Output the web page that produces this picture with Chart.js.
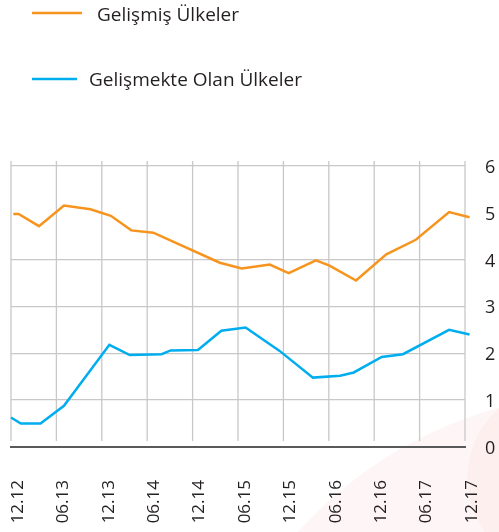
<!DOCTYPE html>
<html lang="tr">
<head>
<meta charset="utf-8">
<title>Gelişmiş ve Gelişmekte Olan Ülkeler</title>
<script src="https://cdn.jsdelivr.net/npm/chart.js@4/dist/chart.umd.min.js"></script>
<style>
  html, body { margin: 0; padding: 0; background: #ffffff; }
  #wrap {
    position: relative; width: 499px; height: 532px; overflow: hidden;
    background:
      radial-gradient(circle at 560px 478px, #fcefee 0 92px, rgba(252,239,238,0) 93px),
      radial-gradient(circle at 611px 814px, #fef6f6 0 421px, rgba(254,246,246,0) 422px),
      #ffffff;
  }
  canvas { display: block; }
</style>
</head>
<body>
<div id="wrap"><canvas id="chart" width="499" height="532"></canvas></div>
<script>
// Six-monthly tick labels (MM.YY), one every 6 months starting December 2012
const tickLabels = ['12.12', '06.13', '12.13', '06.14', '12.14', '06.15',
                    '12.15', '06.16', '12.16', '06.17', '12.17'];

// Series positions in months since December 2012, and their values
const advancedMonths = [0.3, 1, 3.7, 7, 10.5, 13.2, 15.9, 18.8, 27.6, 30.5,
                        34.2, 36.7, 40.3, 42.1, 45.6, 49.6, 53.5, 57.9, 60.6];
const advancedValues = [4.97, 4.97, 4.71, 5.15, 5.07, 4.93, 4.62, 4.57, 3.93, 3.81,
                        3.89, 3.71, 3.98, 3.87, 3.55, 4.11, 4.42, 5.01, 4.90];

const emergingMonths = [0, 1.3, 3.9, 7, 13, 15.7, 19.9, 21.1, 24.7, 27.8,
                        31, 35.5, 39.9, 43.5, 45.3, 49, 51.8, 57.9, 60.6];
const emergingValues = [0.63, 0.50, 0.50, 0.88, 2.18, 1.96, 1.98, 2.06, 2.07, 2.48,
                        2.55, 2.05, 1.48, 1.52, 1.59, 1.92, 1.98, 2.50, 2.40];

const seriesNames = ['Gelişmiş Ülkeler', 'Gelişmekte Olan Ülkeler'];

const ORANGE = '#f7941d';
const BLUE = '#00aeef';
const GRID = '#c8c8c9';
const TEXT = '#231f20';
const FONT = "'Open Sans', 'Noto Sans', sans-serif";

const toPoints = (xs, ys) => xs.map((x, i) => ({ x: x, y: ys[i] }));

// Vertical grid lines at each x tick; they stop a little above the base line
const verticalGrid = {
  id: 'verticalGrid',
  beforeDatasetsDraw(chart) {
    const { ctx, chartArea, scales } = chart;
    const x = scales.x, y = scales.y;
    const bottom = y.getPixelForValue(0) - 6;
    ctx.save();
    ctx.strokeStyle = GRID;
    ctx.lineWidth = 1.3;
    x.ticks.forEach(t => {
      const px = x.getPixelForValue(t.value);
      ctx.beginPath();
      ctx.moveTo(px, chartArea.top);
      ctx.lineTo(px, bottom);
      ctx.stroke();
    });
    ctx.restore();
  }
};

// Stacked legend above the plot
const stackedLegend = {
  id: 'stackedLegend',
  afterDraw(chart) {
    const { ctx } = chart;
    const rows = [
      { base: 21, lineY: 13, x1: 32, x2: 82, textX: 97 },
      { base: 86, lineY: 79, x1: 32, x2: 77, textX: 89 }
    ];
    ctx.save();
    chart.data.datasets.forEach((ds, i) => {
      const r = rows[i];
      ctx.strokeStyle = ds.borderColor;
      ctx.lineWidth = 2.5;
      ctx.beginPath();
      ctx.moveTo(r.x1, r.lineY);
      ctx.lineTo(r.x2, r.lineY);
      ctx.stroke();
      ctx.fillStyle = TEXT;
      ctx.font = "19px " + FONT;
      ctx.textBaseline = 'alphabetic';
      ctx.textAlign = 'left';
      ctx.fillText(ds.label, r.textX, r.base);
    });
    ctx.restore();
  }
};

new Chart(document.getElementById('chart'), {
  type: 'line',
  data: {
    datasets: [
      {
        label: seriesNames[0],
        data: toPoints(advancedMonths, advancedValues),
        borderColor: ORANGE,
        backgroundColor: ORANGE,
        borderWidth: 2.5,
        pointRadius: 0,
        tension: 0,
        clip: false
      },
      {
        label: seriesNames[1],
        data: toPoints(emergingMonths, emergingValues),
        borderColor: BLUE,
        backgroundColor: BLUE,
        borderWidth: 2.5,
        pointRadius: 0,
        tension: 0,
        clip: false
      }
    ]
  },
  options: {
    responsive: false,
    animation: false,
    devicePixelRatio: 1,
    layout: { padding: { top: 161, left: 11, right: 0, bottom: 0 } },
    plugins: {
      legend: { display: false },
      tooltip: { enabled: false }
    },
    scales: {
      x: {
        type: 'linear',
        position: 'bottom',
        min: 0,
        max: 60,
        grid: { display: false, drawTicks: false },
        border: { display: true, color: '#58595b', width: 2 },
        afterFit(scale) {
          scale.height = 85;
          scale.paddingLeft = 0;
          scale.paddingRight = 0;
        },
        ticks: {
          stepSize: 6,
          autoSkip: false,
          minRotation: 90,
          maxRotation: 90,
          padding: 33,
          labelOffset: 7,
          color: TEXT,
          font: { family: FONT, size: 17 },
          callback: v => tickLabels[Math.round(v / 6)]
        }
      },
      y: {
        position: 'right',
        min: 0,
        max: 6.1,
        afterFit(scale) {
          scale.width = 34;
        },
        grid: {
          drawTicks: false,
          lineWidth: 1.3,
          color: ctx => (ctx.tick && (ctx.tick.value === 5 || ctx.tick.value === 0)) ? 'rgba(0,0,0,0)' : GRID
        },
        border: { display: false },
        ticks: {
          stepSize: 1,
          includeBounds: false,
          padding: 20,
          labelOffset: 2,
          color: TEXT,
          font: { family: FONT, size: 18 }
        }
      }
    }
  },
  plugins: [verticalGrid, stackedLegend]
});
</script>
</body>
</html>
